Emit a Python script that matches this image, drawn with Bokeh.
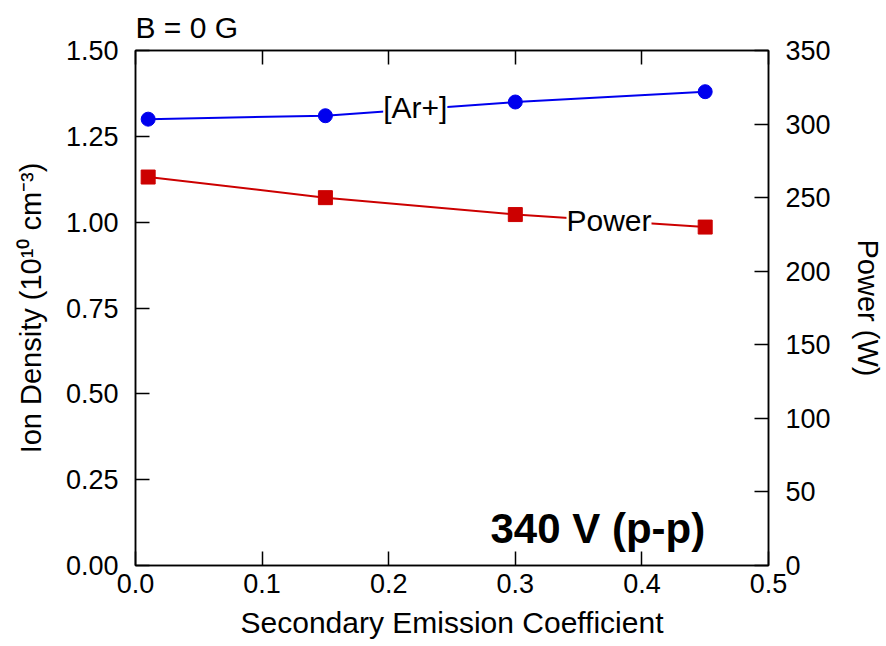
from bokeh.plotting import figure
from bokeh.models import (Range1d, LinearAxis, FixedTicker, NumeralTickFormatter,
                          Label, ColumnDataSource)
from bokeh.embed import file_html
from bokeh.resources import INLINE

# ---- data ----
sec_emission = [0.01, 0.15, 0.30, 0.45]
ion_density = [1.30, 1.31, 1.35, 1.38]       # 10^10 cm^-3
power_w = [264, 250, 238.5, 230]              # W

x_ticks = [0.0, 0.1, 0.2, 0.3, 0.4, 0.5]
left_ticks = [0.0, 0.25, 0.5, 0.75, 1.0, 1.25, 1.5]
right_ticks = [0, 50, 100, 150, 200, 250, 300, 350]

FONT = "Liberation Sans"

p = figure(width=886, height=646, output_backend="svg", toolbar_location=None,
           x_range=Range1d(0, 0.5), y_range=Range1d(0, 1.5),
           min_border_left=135, min_border_right=118, min_border_top=50,
           min_border_bottom=81, x_axis_location="below")
p.extra_y_ranges = {"power": Range1d(0, 350)}
p.grid.visible = False
p.outline_line_color = "black"
p.outline_line_width = 1.5
p.background_fill_color = "white"
p.border_fill_color = "white"

p.title.text = "B = 0 G"
p.title.text_font = FONT
p.title.text_font_size = "30px"
p.title.text_font_style = "normal"
p.title.text_color = "black"
p.title.align = "left"
p.title.vertical_align = "top"
p.title.offset = 0
p.title.standoff = 10

def style_axis(ax, ticks, fmt, standoff):
    ax.ticker = FixedTicker(ticks=ticks)
    ax.formatter = NumeralTickFormatter(format=fmt)
    ax.major_tick_in = 14
    ax.major_tick_out = 0
    ax.minor_tick_in = 0
    ax.minor_tick_out = 0
    ax.major_tick_line_width = 1.5
    ax.axis_line_width = 1.5
    ax.axis_line_color = "black"
    ax.major_tick_line_color = "black"
    ax.major_label_text_font = FONT
    ax.major_label_text_font_size = "27px"
    ax.major_label_text_color = "black"
    ax.major_label_standoff = standoff
    ax.axis_label_text_font = FONT
    ax.axis_label_text_font_size = "29px"
    ax.axis_label_text_font_style = "normal"
    ax.axis_label_text_color = "black"

xa = p.xaxis[0]
style_axis(xa, x_ticks, "0.0", 8)
xa.axis_label = "Secondary Emission Coefficient"
xa.axis_label_standoff = 10
xa.axis_label_text_font_size = "30px"

ya = p.yaxis[0]
style_axis(ya, left_ticks, "0.00", 17)
ya.axis_label = "Ion Density (10\u00b9\u2070 cm\u207b\u00b3)"
ya.axis_label_standoff = 16

ra = LinearAxis(y_range_name="power")
style_axis(ra, right_ticks, "0", 17)
ra.axis_label = "Power (W)"
ra.axis_label_standoff = 18
p.add_layout(ra, "right")

ta = LinearAxis()
style_axis(ta, x_ticks, "0.0", 0)
ta.major_label_text_font_size = "0px"
ta.major_label_text_alpha = 0
p.add_layout(ta, "above")

src = ColumnDataSource(dict(x=sec_emission, ion=ion_density, pw=power_w))

BLUE = "#0000ee"
RED = "#cc0000"
p.line("x", "ion", source=src, line_color=BLUE, line_width=2)
p.scatter("x", "ion", source=src, marker="circle", size=14,
          fill_color=BLUE, line_color=BLUE)

p.line("x", "pw", source=src, y_range_name="power", line_color=RED, line_width=2)
p.scatter("x", "pw", source=src, y_range_name="power", marker="square", size=14,
          fill_color=RED, line_color=RED)

p.add_layout(Label(x=0.221, y=1.334, text="[Ar+]", text_font=FONT,
                   text_font_size="30px", text_align="center",
                   text_baseline="middle", background_fill_color="white",
                   text_color="black"))
p.add_layout(Label(x=0.374, y=1.005, text="Power", text_font=FONT,
                   text_font_size="30px", text_align="center",
                   text_baseline="middle", background_fill_color="white",
                   text_color="black"))
p.add_layout(Label(x=0.45, y=0.108, text="340 V (p-p)", text_font=FONT,
                   text_font_size="42px", text_font_style="bold",
                   text_align="right", text_baseline="alphabetic",
                   text_color="black"))

open("out.html", "w").write(file_html(p, INLINE))
